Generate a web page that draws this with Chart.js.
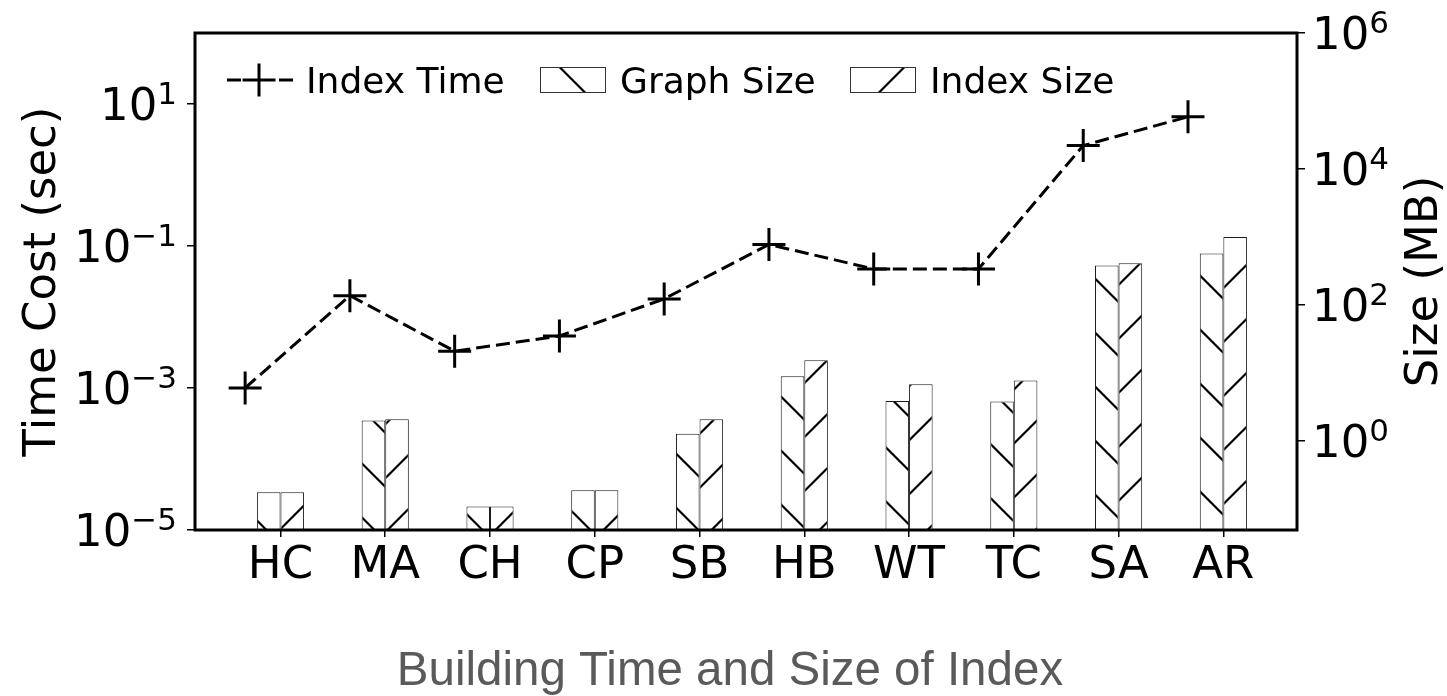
<!DOCTYPE html>
<html lang="en">
<head>
  <meta charset="UTF-8">
  <title>Building Time and Size of Index</title>
  <script src="https://cdn.jsdelivr.net/npm/chart.js"></script>
  <style>
    html, body { margin: 0; padding: 0; background: #fff; }
    #chart { display: block; width: 1447px; height: 696px; }
  </style>
</head>
<body>
<canvas id="chart" width="1447" height="696"></canvas>

<script>
  const categories = ['HC', 'MA', 'CH', 'CP', 'SB', 'HB', 'WT', 'TC', 'SA', 'AR'];
  const indexTime = [0.001, 0.020, 0.0033, 0.0054, 0.018, 0.105, 0.0475, 0.0475, 2.6, 6.6];   // sec
  const graphSize = [0.176, 1.99, 0.109, 0.188, 1.28, 8.95, 3.88, 3.79, 380, 571];           // MB
  const indexSize = [0.176, 2.09, 0.109, 0.188, 2.09, 15.4, 6.83, 7.71, 412, 995];           // MB
  const timeTicks = [1e-5, 1e-3, 1e-1, 1e1];
  const sizeTicks = [1e0, 1e2, 1e4, 1e6];

  const FONT = "'DejaVu Sans', sans-serif";
  const BAR_W = 0.225;   // one bar, in category units

  Chart.defaults.font.family = FONT;

  // matplotlib-like sparse hatch, anchored to the canvas origin
  function makeHatch(forward, offset) {
    const P = 54;
    const c = document.createElement('canvas');
    c.width = P; c.height = P;
    const g = c.getContext('2d');
    g.fillStyle = '#fff';
    g.fillRect(0, 0, P, P);
    g.strokeStyle = '#000';
    g.lineWidth = 2.2;
    g.beginPath();
    for (let k = -2; k <= 2; k++) {
      if (forward) {
        g.moveTo(-P, P + offset + k * P);
        g.lineTo(2 * P, -2 * P + offset + k * P);
      } else {
        g.moveTo(-P, -P + offset + k * P);
        g.lineTo(2 * P, 2 * P + offset + k * P);
      }
    }
    g.stroke();
    const ctx = document.getElementById('chart').getContext('2d');
    return ctx.createPattern(c, 'repeat');
  }

  const hatchBack = makeHatch(false, 47.5);   // "\" for Graph Size
  const hatchFwd = makeHatch(true, 53.5);     // "/" for Index Size

  function drawPow(ctx, exp, x, y, align) {
    const expTxt = String(exp).replace('-', '\u2212');
    ctx.font = '45px ' + FONT;
    const wb = ctx.measureText('10').width;
    ctx.font = '31px ' + FONT;
    const we = ctx.measureText(expTxt).width;
    const x0 = align === 'right' ? x - wb - we : x;
    ctx.textAlign = 'left';
    ctx.textBaseline = 'alphabetic';
    ctx.font = '45px ' + FONT;
    ctx.fillText('10', x0, y);
    ctx.font = '31px ' + FONT;
    ctx.fillText(expTxt, x0 + wb, y - 16.5);
  }

  function drawLegend(ctx, a) {
    const y = a.top + 47;
    ctx.font = '36px ' + FONT;
    ctx.fillStyle = '#000';
    ctx.textAlign = 'left';
    ctx.textBaseline = 'alphabetic';

    // Index Time: "-+-" handle
    const cx = a.left + 64;
    ctx.strokeStyle = '#000';
    ctx.lineWidth = 3;
    ctx.beginPath();
    ctx.moveTo(a.left + 32, y); ctx.lineTo(a.left + 46, y);
    ctx.moveTo(a.left + 84, y); ctx.lineTo(a.left + 98, y);
    ctx.moveTo(cx - 16.5, y); ctx.lineTo(cx + 16.5, y);
    ctx.moveTo(cx, y - 16.5); ctx.lineTo(cx, y + 16.5);
    ctx.stroke();
    ctx.fillText('Index Time', a.left + 111, y + 13);

    // hatched swatches
    [[hatchBack, 345, 'Graph Size'], [hatchFwd, 655, 'Index Size']].forEach(([pat, dx, label]) => {
      ctx.fillStyle = pat;
      ctx.fillRect(a.left + dx, y - 12.5, 65, 25);
      ctx.strokeStyle = '#333';
      ctx.lineWidth = 1;
      ctx.strokeRect(a.left + dx + 0.5, y - 12.5, 65, 25);
      ctx.fillStyle = '#000';
      ctx.fillText(label, a.left + dx + 80, y + 13);
    });
  }

  const decor = {
    id: 'decor',
    afterDraw(chart) {
      const {ctx, chartArea: a, scales} = chart;
      ctx.save();

      // frame
      ctx.strokeStyle = '#000';
      ctx.lineWidth = 3;
      ctx.strokeRect(a.left, a.top, a.right - a.left, a.bottom - a.top);

      // log tick labels with superscripts
      ctx.fillStyle = '#000';
      timeTicks.forEach(v => drawPow(ctx, Math.round(Math.log10(v)), a.left - 18, scales.y.getPixelForValue(v) + 16.3, 'right'));
      sizeTicks.forEach(v => drawPow(ctx, Math.round(Math.log10(v)), a.right + 15, scales.y2.getPixelForValue(v) + 16.3, 'left'));

      // axis titles
      const midY = (a.top + a.bottom) / 2;
      ctx.font = '45px ' + FONT;
      ctx.textAlign = 'center';
      ctx.textBaseline = 'alphabetic';
      ctx.save();
      ctx.translate(a.left - 140, midY);
      ctx.rotate(-Math.PI / 2);
      ctx.fillText('Time Cost (sec)', 0, 0);
      ctx.restore();
      ctx.save();
      ctx.translate(a.right + 140, midY);
      ctx.rotate(-Math.PI / 2);
      ctx.fillText('Size (MB)', 0, 0);
      ctx.restore();

      drawLegend(ctx, a);

      // caption below the figure
      ctx.font = "47.5px 'Liberation Sans', Arial, sans-serif";
      ctx.fillStyle = '#5a5a5a';
      ctx.textAlign = 'center';
      ctx.fillText('Building Time and Size of Index', 730, 685);

      ctx.restore();
    }
  };

  const tickGrid = { drawOnChartArea: false, color: '#000', lineWidth: 1.5, offset: false };

  new Chart(document.getElementById('chart'), {
    type: 'bar',
    data: {
      datasets: [
        {
          type: 'line',
          label: 'Index Time',
          data: categories.map((c, i) => ({x: i - 1.5 * BAR_W, y: indexTime[i]})),
          yAxisID: 'y',
          borderColor: '#000',
          borderWidth: 3,
          borderDash: [14, 6],
          pointStyle: 'cross',
          pointRadius: 16.5,
          pointBorderWidth: 3,
          pointBorderColor: '#000',
          fill: false,
          tension: 0,
          order: 0
        },
        {
          label: 'Graph Size',
          data: categories.map((c, i) => ({x: i, y: graphSize[i]})),
          yAxisID: 'y2',
          backgroundColor: hatchBack,
          borderColor: '#1a1a1a',
          borderWidth: 1,
          categoryPercentage: 2 * BAR_W,
          barPercentage: 1,
          order: 1
        },
        {
          label: 'Index Size',
          data: categories.map((c, i) => ({x: i, y: indexSize[i]})),
          yAxisID: 'y2',
          backgroundColor: hatchFwd,
          borderColor: '#1a1a1a',
          borderWidth: 1,
          categoryPercentage: 2 * BAR_W,
          barPercentage: 1,
          order: 1
        }
      ]
    },
    options: {
      responsive: false,
      animation: false,
      layout: { padding: { top: 33, left: 0, right: 0, bottom: 0 } },
      plugins: {
        legend: { display: false },
        tooltip: { enabled: false }
      },
      scales: {
        x: {
          type: 'linear',
          offset: false,
          min: -0.816,
          max: 9.703,
          afterBuildTicks: s => { s.ticks = categories.map((c, i) => ({value: i})); },
          afterFit: s => { s.height = 166; },
          ticks: {
            callback: v => categories[v],
            font: { family: FONT, size: 45 },
            color: '#000',
            padding: 2,
            maxRotation: 0,
            autoSkip: false
          },
          grid: Object.assign({ tickLength: 7 }, tickGrid),
          border: { display: false }
        },
        y: {
          type: 'logarithmic',
          position: 'left',
          min: 1e-5,
          max: 100,
          afterBuildTicks: s => { s.ticks = timeTicks.map(v => ({value: v})); },
          afterFit: s => { s.width = 195; },
          ticks: { display: false },
          grid: Object.assign({ tickLength: 8 }, tickGrid),
          border: { display: false }
        },
        y2: {
          type: 'logarithmic',
          position: 'right',
          min: Math.pow(10, -1.31),
          max: 1e6,
          afterBuildTicks: s => { s.ticks = sizeTicks.map(v => ({value: v})); },
          afterFit: s => { s.width = 150; },
          ticks: { display: false },
          grid: Object.assign({ tickLength: 8 }, tickGrid),
          border: { display: false }
        }
      }
    },
    plugins: [decor]
  });
</script>
</body>
</html>
